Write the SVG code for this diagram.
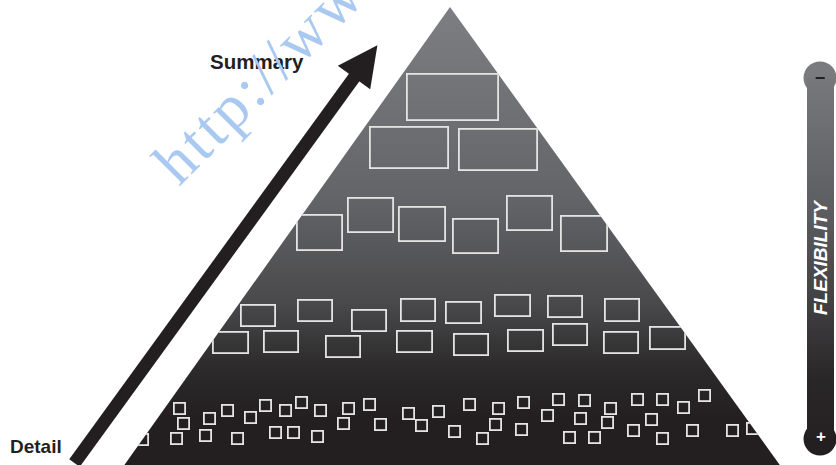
<svg xmlns="http://www.w3.org/2000/svg" width="836" height="465" viewBox="0 0 836 465">
  <style>
    .blk { fill: none; stroke: #e4e4e4; stroke-width: 1.8; }
    .lbl { font-family: "Liberation Sans", Arial, sans-serif; font-weight: bold; fill: #231f20; }
    .wm { font-family: "Liberation Serif", "Times New Roman", serif; fill: #aac9f1; }
  </style>
  <defs>
    <linearGradient id="pyrGrad" gradientUnits="userSpaceOnUse" x1="0" y1="7" x2="0" y2="465">
      <stop offset="0" stop-color="#7d7e82"/>
      <stop offset="0.2" stop-color="#717276"/>
      <stop offset="0.42" stop-color="#636468"/>
      <stop offset="0.64" stop-color="#4a4a4c"/>
      <stop offset="0.79" stop-color="#2c2a2b"/>
      <stop offset="0.9" stop-color="#231f20"/>
      <stop offset="1" stop-color="#231f20"/>
    </linearGradient>
    <linearGradient id="barGrad" gradientUnits="userSpaceOnUse" x1="0" y1="62" x2="0" y2="456">
      <stop offset="0" stop-color="#7a7b7f"/>
      <stop offset="0.4" stop-color="#5a5b5e"/>
      <stop offset="0.8" stop-color="#2a2728"/>
      <stop offset="1" stop-color="#231f20"/>
    </linearGradient>
    <clipPath id="pyrClip">
      <polygon points="450,7 120.8,470 783.4,470"/>
    </clipPath>
  </defs>

  <!-- pyramid body -->
  <g id="pyramid">
    <polygon points="450,7 120.8,470 783.4,470" fill="url(#pyrGrad)"/>
  </g>

  <!-- blocks per tier, clipped to the pyramid outline -->
  <g clip-path="url(#pyrClip)">
    <g id="tier1">
      <rect class="blk" x="406.9" y="73.9" width="91.2" height="46.2"/>
    </g>
    <g id="tier2">
      <rect class="blk" x="369.9" y="126.9" width="78.2" height="41.2"/>
      <rect class="blk" x="458.9" y="128.9" width="78.2" height="41.2"/>
    </g>
    <g id="tier3">
      <rect class="blk" x="296.9" y="214.9" width="45.2" height="35.2"/>
      <rect class="blk" x="347.9" y="197.9" width="45.2" height="34.2"/>
      <rect class="blk" x="398.9" y="206.9" width="46.2" height="34.2"/>
      <rect class="blk" x="452.9" y="218.9" width="45.2" height="34.2"/>
      <rect class="blk" x="506.9" y="195.9" width="45.2" height="34.2"/>
      <rect class="blk" x="560.9" y="215.9" width="46.2" height="35.2"/>
    </g>
    <g id="tier4">
      <rect class="blk" x="240.9" y="304.9" width="34.2" height="21.2"/>
      <rect class="blk" x="297.9" y="299.9" width="34.2" height="21.2"/>
      <rect class="blk" x="351.9" y="309.9" width="34.2" height="21.2"/>
      <rect class="blk" x="400.9" y="298.9" width="34.2" height="22.2"/>
      <rect class="blk" x="445.9" y="301.9" width="35.2" height="21.2"/>
      <rect class="blk" x="494.9" y="294.9" width="35.2" height="21.2"/>
      <rect class="blk" x="547.9" y="295.9" width="34.2" height="21.2"/>
      <rect class="blk" x="604.9" y="298.9" width="34.2" height="22.2"/>
      <rect class="blk" x="212.9" y="331.9" width="35.2" height="21.2"/>
      <rect class="blk" x="263.9" y="330.9" width="34.2" height="21.2"/>
      <rect class="blk" x="325.9" y="335.9" width="34.2" height="21.2"/>
      <rect class="blk" x="396.9" y="330.9" width="35.2" height="21.2"/>
      <rect class="blk" x="453.9" y="333.9" width="34.2" height="21.2"/>
      <rect class="blk" x="507.9" y="329.9" width="35.2" height="21.2"/>
      <rect class="blk" x="552.9" y="323.9" width="34.2" height="21.2"/>
      <rect class="blk" x="603.9" y="331.9" width="34.2" height="21.2"/>
      <rect class="blk" x="649.9" y="326.9" width="35.2" height="22.2"/>
    </g>
    <g id="tier5">
      <rect class="blk" x="173.9" y="402.9" width="11.2" height="11.2"/>
      <rect class="blk" x="177.9" y="417.9" width="11.2" height="11.2"/>
      <rect class="blk" x="170.9" y="432.9" width="11.2" height="11.2"/>
      <rect class="blk" x="136.9" y="433.9" width="11.2" height="11.2"/>
      <rect class="blk" x="203.9" y="412.9" width="11.2" height="11.2"/>
      <rect class="blk" x="199.9" y="429.9" width="11.2" height="11.2"/>
      <rect class="blk" x="221.9" y="404.9" width="11.2" height="11.2"/>
      <rect class="blk" x="231.9" y="432.9" width="11.2" height="11.2"/>
      <rect class="blk" x="244.9" y="411.9" width="11.2" height="11.2"/>
      <rect class="blk" x="259.9" y="399.9" width="11.2" height="11.2"/>
      <rect class="blk" x="279.9" y="404.9" width="11.2" height="11.2"/>
      <rect class="blk" x="295.9" y="396.9" width="11.2" height="11.2"/>
      <rect class="blk" x="269.9" y="426.9" width="11.2" height="11.2"/>
      <rect class="blk" x="287.9" y="426.9" width="11.2" height="11.2"/>
      <rect class="blk" x="314.9" y="404.9" width="11.2" height="11.2"/>
      <rect class="blk" x="311.9" y="430.9" width="11.2" height="11.2"/>
      <rect class="blk" x="342.9" y="402.9" width="11.2" height="11.2"/>
      <rect class="blk" x="337.9" y="417.9" width="11.2" height="11.2"/>
      <rect class="blk" x="363.9" y="398.9" width="11.2" height="11.2"/>
      <rect class="blk" x="374.9" y="418.9" width="11.2" height="11.2"/>
      <rect class="blk" x="402.9" y="407.9" width="11.2" height="11.2"/>
      <rect class="blk" x="415.9" y="419.9" width="11.2" height="11.2"/>
      <rect class="blk" x="432.9" y="405.9" width="11.2" height="11.2"/>
      <rect class="blk" x="448.9" y="425.9" width="11.2" height="11.2"/>
      <rect class="blk" x="463.9" y="398.9" width="11.2" height="11.2"/>
      <rect class="blk" x="476.9" y="432.9" width="11.2" height="11.2"/>
      <rect class="blk" x="492.9" y="402.9" width="11.2" height="11.2"/>
      <rect class="blk" x="489.9" y="418.9" width="11.2" height="11.2"/>
      <rect class="blk" x="517.9" y="396.9" width="11.2" height="11.2"/>
      <rect class="blk" x="515.9" y="423.9" width="11.2" height="11.2"/>
      <rect class="blk" x="541.9" y="409.9" width="11.2" height="11.2"/>
      <rect class="blk" x="552.9" y="393.9" width="11.2" height="11.2"/>
      <rect class="blk" x="563.9" y="431.9" width="11.2" height="11.2"/>
      <rect class="blk" x="578.9" y="394.9" width="11.2" height="11.2"/>
      <rect class="blk" x="574.9" y="412.9" width="11.2" height="11.2"/>
      <rect class="blk" x="588.9" y="431.9" width="11.2" height="11.2"/>
      <rect class="blk" x="604.9" y="402.9" width="11.2" height="11.2"/>
      <rect class="blk" x="601.9" y="416.9" width="11.2" height="11.2"/>
      <rect class="blk" x="631.9" y="393.9" width="11.2" height="11.2"/>
      <rect class="blk" x="627.9" y="424.9" width="11.2" height="11.2"/>
      <rect class="blk" x="645.9" y="413.9" width="11.2" height="11.2"/>
      <rect class="blk" x="656.9" y="393.9" width="11.2" height="11.2"/>
      <rect class="blk" x="656.9" y="432.9" width="11.2" height="11.2"/>
      <rect class="blk" x="677.9" y="401.9" width="11.2" height="11.2"/>
      <rect class="blk" x="686.9" y="424.9" width="11.2" height="11.2"/>
      <rect class="blk" x="698.9" y="389.9" width="11.2" height="11.2"/>
      <rect class="blk" x="726.9" y="424.9" width="11.2" height="11.2"/>
      <rect class="blk" x="746.9" y="422.9" width="11.2" height="11.2"/>
    </g>
  </g>

  <!-- detail-to-summary arrow -->
  <g id="connectors">
    <line x1="74.5" y1="463" x2="356" y2="75" stroke="#231f20" stroke-width="13"/>
    <polygon points="377.4,45.3 337.8,65.7 370.2,89.3" fill="#231f20"/>
  </g>

  <g id="label-summary">
    <text class="lbl" x="210" y="69" font-size="20.5">Summary</text>
  </g>
  <g id="label-detail">
    <text class="lbl" x="10" y="453" font-size="19">Detail</text>
  </g>

  <!-- flexibility scale -->
  <g id="flex-scale">
    <circle cx="820" cy="78" r="16.5" fill="#7a7b7f"/>
    <circle cx="820" cy="439" r="16.5" fill="#231f20"/>
    <rect x="807" y="78" width="27" height="361" fill="url(#barGrad)"/>
    <text x="820" y="83.5" font-family="Liberation Sans, Arial, sans-serif" font-weight="bold" font-size="18" fill="#231f20" text-anchor="middle">−</text>
    <text x="821" y="442" font-family="Liberation Sans, Arial, sans-serif" font-weight="bold" font-size="17" fill="#ffffff" text-anchor="middle">+</text>
    <text transform="translate(827,258) rotate(-90)" font-family="Liberation Sans, Arial, sans-serif" font-weight="bold" font-style="italic" font-size="19" fill="#ffffff" text-anchor="middle">FLEXIBILITY</text>
  </g>

  <g id="watermark">
    <text class="wm" transform="translate(179,187) rotate(-45)" font-size="62" letter-spacing="3.3">http://www</text>
  </g>
</svg>
